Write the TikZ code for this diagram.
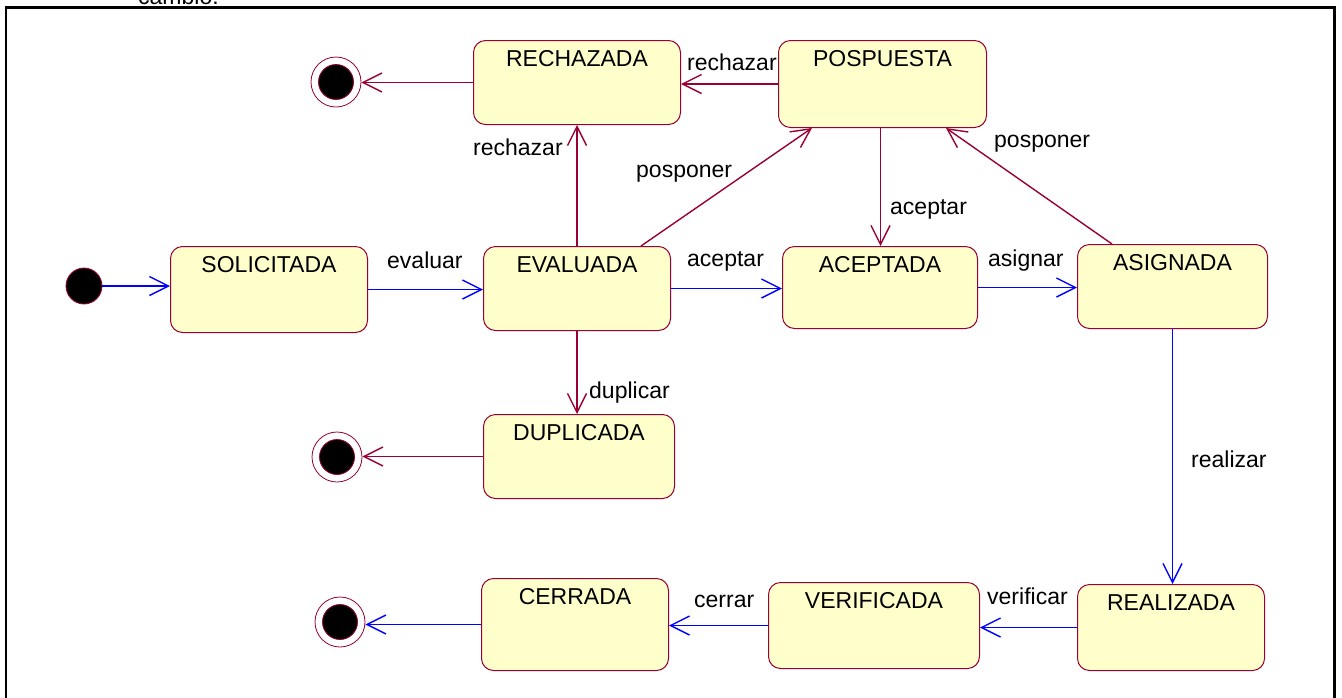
\documentclass[tikz,border=0pt]{standalone}
\usepackage{fontspec}
\setmainfont{Liberation Sans}
\usetikzlibrary{arrows.meta}
\definecolor{umlred}{HTML}{990033}
\definecolor{umlblue}{HTML}{0000FF}
\definecolor{statefill}{HTML}{FFFFCC}
\begin{document}
\begin{tikzpicture}[x=1pt,y=-1pt,
  lbl/.style={font=\fontsize{23}{27}\selectfont, inner sep=0pt, anchor=base west},
  stbox/.style 2 args={draw=umlred, fill=statefill, line width=1pt,
    rounded corners=12pt, inner sep=0pt, minimum width=#1,
    text height=26pt, text depth=#2, anchor=north west,
    font=\fontsize{23}{27}\selectfont},
  initst/.style={circle, fill=black, draw=umlred, line width=0.8pt,
    minimum size=36pt, inner sep=0pt},
  finalst/.style={circle, fill=white, draw=umlred, line width=0.8pt,
    minimum size=50pt, inner sep=0pt,
    path picture={\filldraw[fill=black, draw=umlred, line width=0.8pt]
      (path picture bounding box.center) circle (17.5pt);}},
  flow/.style={draw=umlblue, line width=1.4pt,
    -{Straight Barb[length=19pt,width=19pt]}},
  back/.style={draw=umlred, line width=1.4pt,
    -{Straight Barb[length=19pt,width=19pt]}}]

\useasboundingbox (0,0) rectangle (1342,697);

% caption above the frame
\node[lbl] (caption) at (138,4) {cambio.};

% frame
\draw[line width=2.5pt, line join=miter] (6,705) -- (6,7.5) -- (1334.5,7.5) -- (1334.5,705);

% states
\node[stbox={197pt}{60pt}] (sol) at (170,246) {SOLICITADA};
\node[stbox={187pt}{58pt}] (eva) at (483,246) {EVALUADA};
\node[stbox={195pt}{56pt}] (acc) at (782,246) {ACEPTADA};
\node[stbox={190pt}{58pt}] (asg) at (1077,244) {ASIGNADA};
\node[stbox={207pt}{58pt}] (rej) at (473,40) {RECHAZADA};
\node[stbox={208pt}{61pt}] (pos) at (778,40) {POSPUESTA};
\node[stbox={191pt}{58pt}] (dup) at (483,414) {DUPLICADA};
\node[stbox={187pt}{66pt}] (cer) at (481,578) {CERRADA};
\node[stbox={211pt}{60pt}] (ver) at (768,582) {VERIFICADA};
\node[stbox={187pt}{60pt}] (rea) at (1077,584) {REALIZADA};

% pseudo states
\node[initst] (init) at (84,286) {};
\node[finalst] (fin1) at (336,82) {};
\node[finalst] (fin2) at (337,457) {};
\node[finalst] (fin3) at (340,622) {};

% main flow
\draw[flow] (init) -- (init -| sol.west);
\draw[flow] (sol.east) -- (sol.east -| eva.west);
\draw[flow] (eva.east) -- (eva.east -| acc.west);
\draw[flow] (acc.east) -- (acc.east -| asg.west);
\draw[flow] (asg.south) -- (asg.south |- rea.north);
\draw[flow] (rea.west) -- (rea.west -| ver.east);
\draw[flow] (ver.west) -- (ver.west -| cer.east);
\draw[flow] (cer.west) -- (cer.west -| fin3.east);

% alternative transitions
\draw[back] (eva.north) -- (rej.south);
\draw[back] (eva.south) -- (eva.south |- dup.north);
\draw[back] (dup.west) -- (dup.west -| fin2.east);
\draw[back] (rej.west) -- (rej.west -| fin1.east);
\draw[back] (pos.west) -- (pos.west -| rej.east);
\draw[back] ([xshift=-2pt]pos.south) -- ([xshift=-2pt]pos.south |- acc.north);
\draw[back] ([xshift=-30pt]eva.north east) -- ([xshift=34pt]pos.south west);
\draw[back] ([xshift=35pt]asg.north west) -- ([xshift=-41pt]pos.south east);

% transition labels
\node[lbl] (tevaluar) at (387,268) {evaluar};
\node[lbl] (taceptar1) at (687,266) {aceptar};
\node[lbl] (tasignar) at (988,266) {asignar};
\node[lbl] (trealizar) at (1191,467) {realizar};
\node[lbl] (tverificar) at (987,604) {verificar};
\node[lbl] (tcerrar) at (694,607) {cerrar};
\node[lbl] (trechazar1) at (473,155) {rechazar};
\node[lbl] (tposponer1) at (636,177) {posponer};
\node[lbl] (trechazar2) at (687,70) {rechazar};
\node[lbl] (taceptar2) at (890,214) {aceptar};
\node[lbl] (tposponer2) at (994,147) {posponer};
\node[lbl] (tduplicar) at (589,398) {duplicar};
\end{tikzpicture}
\end{document}
